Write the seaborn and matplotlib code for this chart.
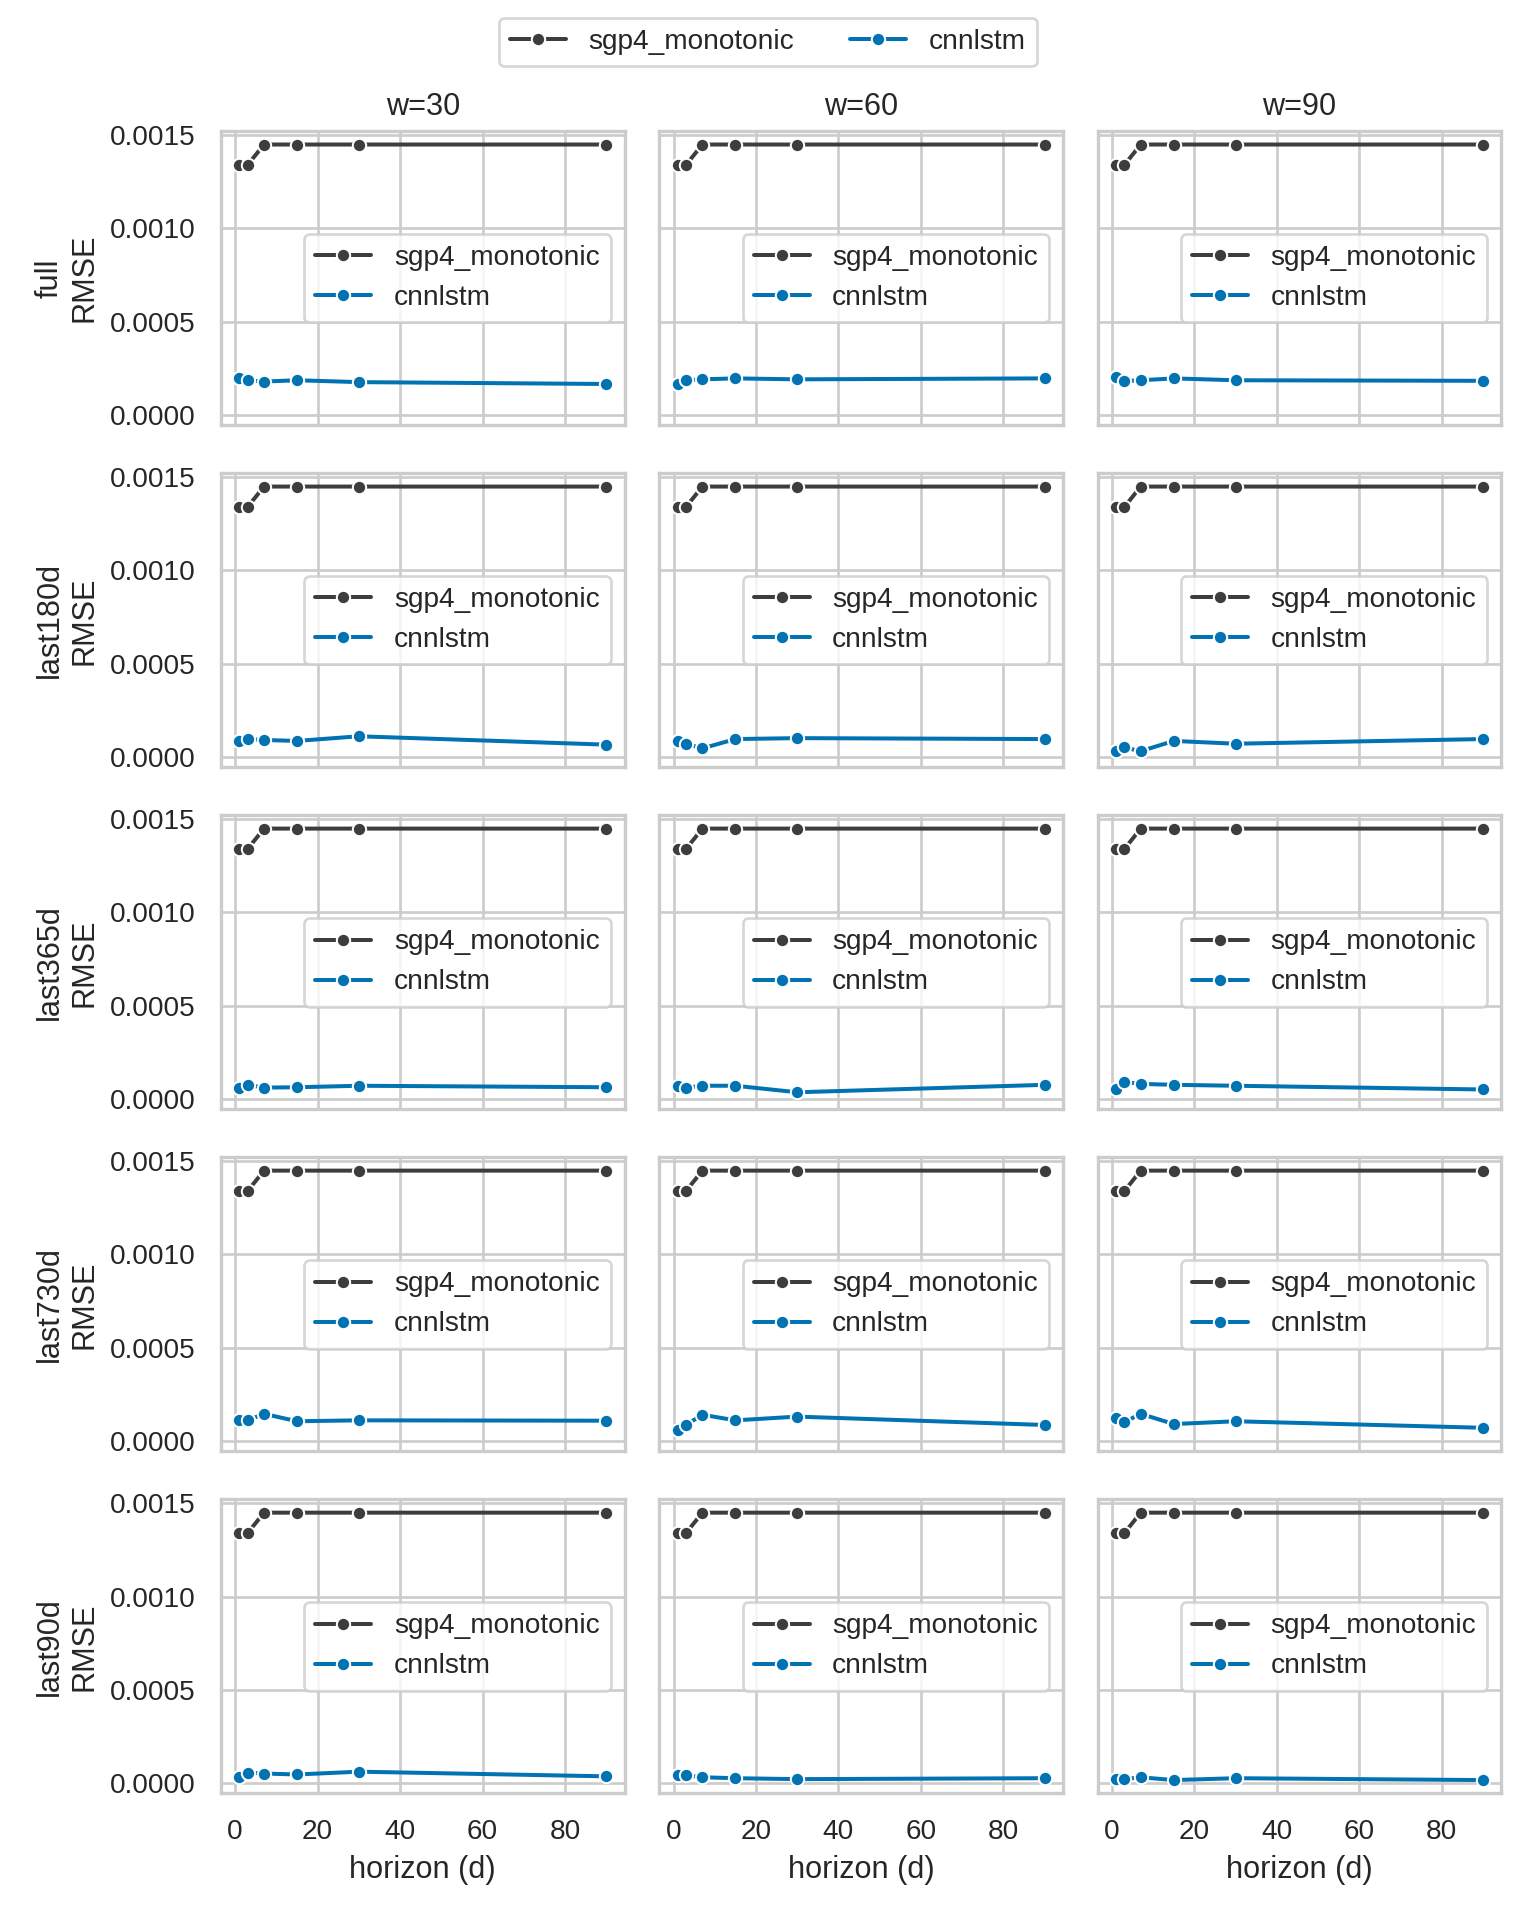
import matplotlib
matplotlib.use("Agg")
import matplotlib.pyplot as plt
import seaborn as sns
import pandas as pd

horizons = [1, 3, 7, 15, 30, 90]
windows = [30, 60, 90]
subsets = ["full", "last180d", "last365d", "last730d", "last90d"]
sgp4 = [0.00134, 0.00134, 0.00145, 0.00145, 0.00145, 0.00145]
cnnlstm = {
    "full": {30: [0.000195, 0.000185, 0.000178, 0.000185, 0.000175, 0.000165],
             60: [0.000165, 0.000185, 0.00019, 0.000195, 0.00019, 0.000195],
             90: [0.0002, 0.00018, 0.000185, 0.000195, 0.000185, 0.000182]},
    "last180d": {30: [0.000085, 0.000095, 0.00009, 0.000085, 0.00011, 0.000065],
                 60: [0.000085, 0.00007, 0.000045, 0.000095, 0.0001, 0.000095],
                 90: [0.00003, 0.00005, 0.00003, 0.000085, 0.00007, 0.000095]},
    "last365d": {30: [0.00006, 0.000075, 0.00006, 0.000062, 0.00007, 0.000062],
                 60: [0.00007, 0.00006, 0.00007, 0.00007, 0.000035, 0.000075],
                 90: [0.00005, 0.00009, 0.00008, 0.000075, 0.00007, 0.00005]},
    "last730d": {30: [0.00011, 0.00011, 0.000145, 0.000105, 0.00011, 0.000108],
                 60: [0.00006, 0.000085, 0.00014, 0.00011, 0.00013, 0.000085],
                 90: [0.000125, 0.0001, 0.000145, 0.00009, 0.000105, 0.00007]},
    "last90d": {30: [0.00003, 0.000055, 0.00005, 0.000045, 0.00006, 0.000035],
                60: [0.00004, 0.00004, 0.00003, 0.000025, 0.00002, 0.000025],
                90: [0.00002, 0.00002, 0.00003, 0.000015, 0.000025, 0.000015]},
}

sns.set_theme(style="whitegrid")
plt.rcParams['font.family'] = ['Liberation Sans', 'DejaVu Sans']
palette = {"sgp4_monotonic": "#3d3d3d", "cnnlstm": "#0173b2"}

fig, axes = plt.subplots(5, 3, figsize=(8, 10), dpi=192, sharex=True, sharey=True)
for i, s in enumerate(subsets):
    for j, w in enumerate(windows):
        ax = axes[i, j]
        df = pd.DataFrame({
            "horizon": horizons * 2,
            "rmse": sgp4 + cnnlstm[s][w],
            "model": ["sgp4_monotonic"] * 6 + ["cnnlstm"] * 6,
        })
        sns.lineplot(data=df, x="horizon", y="rmse", hue="model", palette=palette,
                     marker="o", ax=ax, markersize=5)
        ax.legend(loc="center right", fontsize=10.5)
        for sp in ax.spines.values():
            sp.set_visible(True); sp.set_color("#cccccc")
        if i == 0:
            ax.set_title(f"w={w}", fontsize=11.5)
        ax.set_ylabel(f"{s}\nRMSE" if j == 0 else "", fontsize=11.5)
        ax.set_xlabel("horizon (d)" if i == 4 else "", fontsize=11.5)
        ax.set_yticks([0, 0.0005, 0.001, 0.0015])
        ax.set_yticklabels(["0.0000", "0.0005", "0.0010", "0.0015"])
        ax.set_xticks([0, 20, 40, 60, 80])
        ax.tick_params(labelsize=10.5)

h, l = axes[0, 0].get_legend_handles_labels()
fig.legend(h, l, loc="upper center", ncol=2, fontsize=10.5, bbox_to_anchor=(0.5, 0.998))
fig.tight_layout(rect=(0, 0, 1, 0.97))
fig.savefig("out.png", dpi=192)
